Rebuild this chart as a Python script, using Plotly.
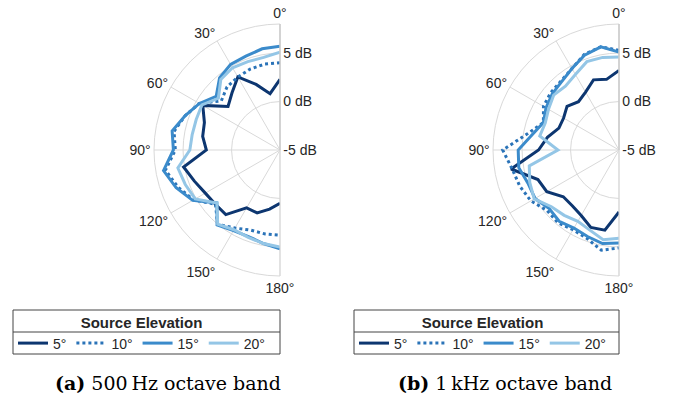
import plotly.graph_objects as go

# ---------------- data (dB) ----------------
angles = [0, 10, 20, 30, 40, 50, 60, 70, 80, 90, 100, 110, 120, 130, 140, 150, 160, 170, 180]
elev_labels = ["5°", "10°", "15°", "20°"]
angle_ticks = [0, 30, 60, 90, 120, 150, 180]
angle_ticktext = ["0°", "30°", "60°", "90°", "120°", "150°", "180°"]
r_ticks = [-5, 0, 5]
r_ticktext = ["-5 dB", "0 dB", "5 dB"]
captions = ["<b>(a)</b> 500\u2009Hz octave band", "<b>(b)</b> 1\u2009kHz octave band"]

# 500 Hz octave band
hz500_e5 = [2.3, 0.9, 2.2, 3.7, 2.7, 2.0, 4.2, 3.3, 3.1, 2.6, 5.1, 4.4, 3.9, 3.7, 3.7, 1.9, 1.9, 1.2, 0.5]
hz500_e10 = [4.0, 4.0, 3.9, 3.7, 3.5, 2.9, 4.6, 5.4, 6.1, 5.8, 7.0, 6.2, 5.3, 3.7, 5.0, 4.3, 3.8, 3.8, 3.8]
hz500_e15 = [5.7, 5.6, 5.3, 5.2, 4.7, 3.6, 4.6, 5.4, 6.3, 6.0, 7.2, 6.4, 5.4, 3.5, 5.1, 4.6, 4.5, 4.8, 5.2]
hz500_e20 = [5.1, 4.7, 4.7, 4.8, 4.5, 3.3, 4.3, 4.2, 4.2, 4.3, 5.7, 5.4, 5.1, 3.5, 5.0, 4.5, 4.6, 4.8, 5.0]

# 1 kHz octave band
khz1_e5 = [3.2, 2.4, 2.7, 1.9, 1.5, 2.0, 1.6, 1.6, 2.5, 3.3, 6.3, 3.9, 3.6, 2.5, 2.5, 2.8, 3.5, 3.4, 1.4]
khz1_e10 = [5.3, 5.8, 5.5, 4.7, 4.3, 4.2, 4.0, 3.3, 4.6, 7.0, 6.2, 5.9, 5.5, 4.7, 4.8, 4.5, 4.7, 5.5, 5.1]
khz1_e15 = [5.1, 5.8, 5.4, 4.7, 4.2, 4.0, 3.7, 3.3, 4.1, 5.4, 5.5, 5.0, 5.0, 4.4, 4.6, 4.3, 4.5, 4.8, 4.6]
khz1_e20 = [4.6, 4.7, 4.7, 4.0, 3.6, 3.8, 3.4, 3.1, 3.3, 1.3, 4.4, 4.8, 5.1, 4.1, 3.8, 3.5, 3.8, 4.4, 4.1]

# ---------------- styles ----------------
colors = ["#0d3670", "#2a73b8", "#3b8bcb", "#94c6e6"]
dashes = ["solid", "dot", "solid", "solid"]
TXT = "#262626"
GRID = "#d9d9d9"
SANS = "Liberation Sans, Arial, sans-serif"

W, H = 687, 401


def px(x):
    return x / W


def py(y):
    return 1 - y / H


fig = go.Figure()
panels = [
    ("polar", "legend", [hz500_e5, hz500_e10, hz500_e15, hz500_e20]),
    ("polar2", "legend2", [khz1_e5, khz1_e10, khz1_e15, khz1_e20]),
]
for sub, leg, series in panels:
    for vals, name, col, dash in zip(series, elev_labels, colors, dashes):
        fig.add_trace(go.Scatterpolar(
            r=vals, theta=angles, mode="lines", name=name,
            line=dict(color=col, width=3, dash=dash),
            subplot=sub, legend=leg, showlegend=True,
        ))


def polar_layout(x0, x1):
    return dict(
        domain=dict(x=[px(x0), px(x1)], y=[py(276), py(24)]),
        sector=[90, 270],
        bgcolor="white",
        angularaxis=dict(
            rotation=90, direction="counterclockwise",
            tickvals=angle_ticks, ticktext=angle_ticktext,
            showline=True, linecolor=GRID, linewidth=1,
            showgrid=True, gridcolor=GRID, gridwidth=1,
            ticks="", tickfont=dict(family=SANS, size=14, color=TXT),
        ),
        radialaxis=dict(
            range=[-5, 8], tickvals=r_ticks, ticktext=r_ticktext,
            angle=90, side="clockwise", tickangle=90,
            showline=True, linecolor="#c4c4c4", linewidth=1,
            showgrid=True, gridcolor=GRID, gridwidth=1,
            ticks="", tickfont=dict(family=SANS, size=14, color=TXT),
        ),
    )


def legend_layout(x0):
    return dict(
        x=px(x0), y=py(308), xanchor="left", yanchor="top",
        orientation="h",
        title=dict(text="<b>Source Elevation</b>", side="top center",
                   font=dict(family=SANS, size=15, color=TXT)),
        font=dict(family=SANS, size=14, color=TXT),
        bgcolor="rgba(0,0,0,0)", borderwidth=0,
        itemclick=False, itemdoubleclick=False,
    )


shapes = []
for bx0, bx1 in [(13, 280), (354, 619)]:
    shapes.append(dict(type="rect", xref="paper", yref="paper",
                       x0=px(bx0), x1=px(bx1), y0=py(354), y1=py(310),
                       line=dict(color="#444444", width=1)))
    shapes.append(dict(type="line", xref="paper", yref="paper",
                       x0=px(bx0), x1=px(bx1), y0=py(332), y1=py(332),
                       line=dict(color="#444444", width=1)))

annotations = []
for text, cx in zip(captions, [168, 505]):
    annotations.append(dict(text=text, x=px(cx), y=py(383), xref="paper", yref="paper",
                            showarrow=False, xanchor="center", yanchor="middle",
                            font=dict(family="DejaVu Serif, serif", size=19, color="black")))

fig.update_layout(
    width=W, height=H,
    margin=dict(l=0, r=0, t=0, b=0),
    paper_bgcolor="white", plot_bgcolor="white",
    polar=polar_layout(154, 280),
    polar2=polar_layout(493, 619),
    legend=legend_layout(13),
    legend2=legend_layout(354),
    shapes=shapes,
    annotations=annotations,
)

fig.write_html("out.html", config={"displayModeBar": False},
               post_script="document.body.style.margin='0px';")
